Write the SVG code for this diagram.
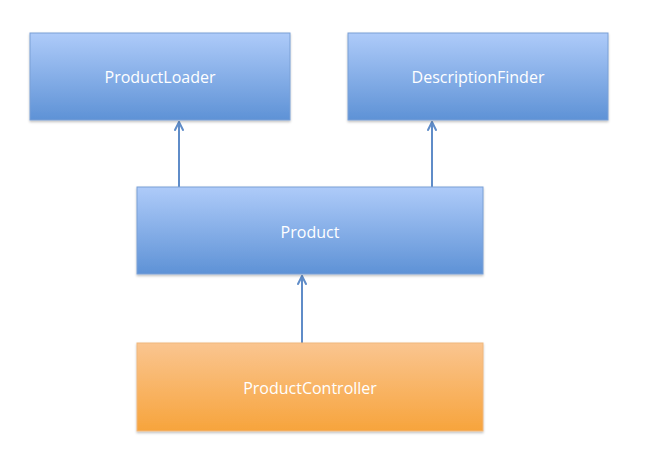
<svg xmlns="http://www.w3.org/2000/svg" width="670" height="473" viewBox="0 0 670 473">
<style>
.box-blue{fill:url(#gBlue);stroke:#7aa0d6;stroke-width:1}
.box-orange{fill:url(#gOrange);stroke:#f0b77c;stroke-width:1}
.lbl{font-family:"Open Sans","Liberation Sans",sans-serif;font-size:16px;fill:#ffffff;text-anchor:middle;dominant-baseline:central}
.conn{stroke:#5f8cc8;stroke-width:2;fill:none;marker-end:url(#arr)}
</style>
<defs>
<linearGradient id="gBlue" x1="0" y1="0" x2="0" y2="1">
<stop offset="0" stop-color="#aecbf9"/>
<stop offset="1" stop-color="#5e92d6"/>
</linearGradient>
<linearGradient id="gOrange" x1="0" y1="0" x2="0" y2="1">
<stop offset="0" stop-color="#fac590"/>
<stop offset="1" stop-color="#f7a43c"/>
</linearGradient>
<filter id="sh" x="-5%" y="-5%" width="110%" height="120%">
<feDropShadow dx="0" dy="1.5" stdDeviation="1.2" flood-color="#000" flood-opacity="0.25"/>
</filter>
<marker id="arr" viewBox="0 0 10 10" refX="9" refY="5" markerWidth="5" markerHeight="5" orient="auto" markerUnits="strokeWidth">
<path d="M1,1 L9,5 L1,9" fill="none" stroke="#5f8cc8" stroke-width="2" stroke-linecap="round" stroke-linejoin="round"/>
</marker>
</defs>
<g id="connectors">
<line class="conn" x1="179" y1="187" x2="179" y2="122"/>
<line class="conn" x1="432" y1="187" x2="432" y2="122"/>
<line class="conn" x1="302" y1="343" x2="302" y2="276"/>
</g>
<g id="ProductLoader">
<rect class="box-blue" x="30" y="33" width="260" height="87" filter="url(#sh)"/>
<text class="lbl" x="160" y="77">ProductLoader</text>
</g>
<g id="DescriptionFinder">
<rect class="box-blue" x="348" y="33" width="260" height="87" filter="url(#sh)"/>
<text class="lbl" x="478" y="77">DescriptionFinder</text>
</g>
<g id="Product">
<rect class="box-blue" x="137" y="187" width="346" height="87" filter="url(#sh)"/>
<text class="lbl" x="310" y="232">Product</text>
</g>
<g id="ProductController">
<rect class="box-orange" x="137" y="343" width="346" height="88" filter="url(#sh)"/>
<text class="lbl" x="310" y="388">ProductController</text>
</g>
</svg>
